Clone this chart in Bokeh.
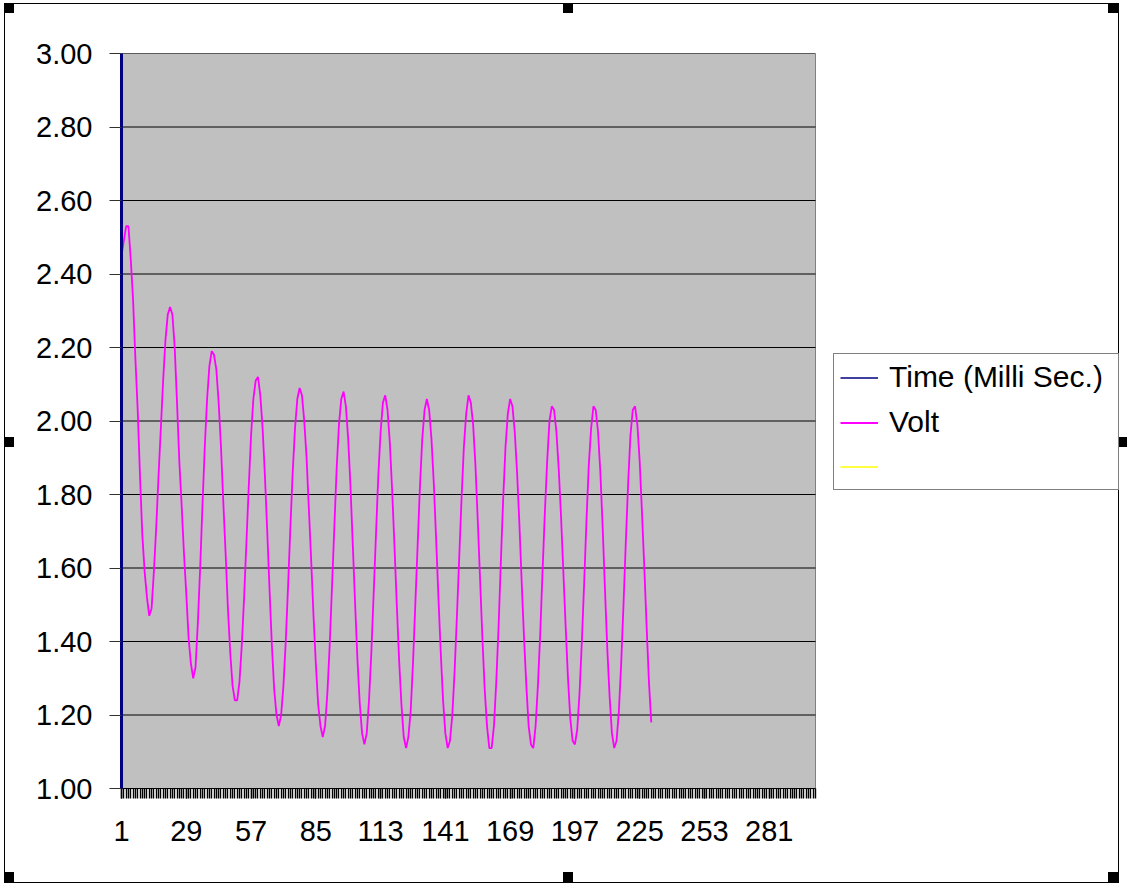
from bokeh.plotting import figure
from bokeh.models import (Range1d, FixedTicker, Legend, LegendItem,
                          PrintfTickFormatter)
from bokeh.embed import file_html
from bokeh.resources import INLINE

# ---------------- data ----------------
n_categories = 301
x_tick_labels = [1, 29, 57, 85, 113, 141, 169, 197, 225, 253, 281]
y_ticks = [1.00, 1.20, 1.40, 1.60, 1.80, 2.00, 2.20, 2.40, 2.60, 2.80, 3.00]

time_ms = [0, 100, 200, 300, 400]

volt = [
    2.45, 2.49, 2.53, 2.53, 2.44, 2.33, 2.17, 2.03, 1.85, 1.69,
    1.59, 1.52, 1.47, 1.49, 1.59, 1.71, 1.85, 1.98, 2.11, 2.22,
    2.29, 2.31, 2.29, 2.20, 2.05, 1.89, 1.77, 1.64, 1.53, 1.41,
    1.34, 1.30, 1.33, 1.45, 1.60, 1.77, 1.93, 2.06, 2.15, 2.19,
    2.18, 2.14, 2.05, 1.93, 1.78, 1.64, 1.49, 1.37, 1.28, 1.24,
    1.24, 1.29, 1.39, 1.52, 1.67, 1.82, 1.96, 2.06, 2.11, 2.12,
    2.07, 1.98, 1.85, 1.70, 1.54, 1.39, 1.27, 1.20, 1.17, 1.20,
    1.28, 1.40, 1.55, 1.71, 1.86, 1.98, 2.06, 2.09, 2.07, 2.00,
    1.90, 1.76, 1.62, 1.47, 1.34, 1.23, 1.17, 1.14, 1.17, 1.26,
    1.39, 1.55, 1.71, 1.87, 1.99, 2.06, 2.08, 2.04, 1.95, 1.82,
    1.66, 1.50, 1.35, 1.23, 1.15, 1.12, 1.15, 1.24, 1.37, 1.53,
    1.69, 1.85, 1.97, 2.05, 2.07, 2.03, 1.94, 1.81, 1.66, 1.50,
    1.35, 1.23, 1.14, 1.11, 1.14, 1.21, 1.34, 1.50, 1.66, 1.82,
    1.95, 2.03, 2.06, 2.03, 1.95, 1.83, 1.68, 1.52, 1.37, 1.24,
    1.15, 1.11, 1.13, 1.20, 1.32, 1.47, 1.63, 1.79, 1.93, 2.02,
    2.07, 2.05, 1.99, 1.88, 1.73, 1.57, 1.41, 1.27, 1.17, 1.11,
    1.11, 1.17, 1.29, 1.44, 1.62, 1.79, 1.93, 2.02, 2.06, 2.04,
    1.97, 1.86, 1.72, 1.56, 1.41, 1.28, 1.17, 1.12, 1.11, 1.17,
    1.28, 1.42, 1.59, 1.75, 1.89, 2.00, 2.04, 2.03, 1.97, 1.87,
    1.74, 1.59, 1.44, 1.30, 1.19, 1.13, 1.12, 1.16, 1.26, 1.40,
    1.56, 1.73, 1.88, 1.98, 2.04, 2.03, 1.97, 1.86, 1.71, 1.54,
    1.38, 1.25, 1.15, 1.11, 1.13, 1.21, 1.34, 1.50, 1.67, 1.83,
    1.96, 2.03, 2.04, 1.99, 1.89, 1.75, 1.60, 1.44, 1.29, 1.18,
]

# third (unnamed) series has no plotted values
blank_series = [float("nan")]

series_names = ["Time (Milli Sec.)", "Volt", " "]
series_colors = ["#000080", "#FF00FF", "#FFFF00"]

# ---------------- layout ----------------
FONT = "Liberation Sans"
W, H = 1127, 886
LEFT, TOP, BOTTOM = 121, 53, 98
AREA_W = 694                      # width of the grey plot area
FRAME_W = W - LEFT                # frame runs to the right edge (legend lives there)
x_end = 1 + (n_categories - 1) * FRAME_W / AREA_W

p = figure(width=W, height=H, output_backend="svg", toolbar_location=None,
           x_range=Range1d(1, x_end), y_range=Range1d(y_ticks[0], y_ticks[-1]),
           min_border_left=LEFT, min_border_right=0,
           min_border_top=TOP, min_border_bottom=BOTTOM)
p.title.visible = False
p.background_fill_color = None
p.border_fill_color = None
p.outline_line_color = None
p.xgrid.visible = False
p.ygrid.visible = False

# grey plot area and its horizontal gridlines
p.quad(left=1, right=n_categories, bottom=y_ticks[0], top=y_ticks[-1],
       fill_color="#C0C0C0", line_color="#808080", line_width=1)
p.segment(x0=[1] * len(y_ticks), x1=[n_categories] * len(y_ticks),
          y0=y_ticks, y1=y_ticks, line_color="black", line_width=1.2)

# x axis (category style)
xa = p.xaxis[0]
xa.bounds = (1, n_categories)
xa.ticker = FixedTicker(ticks=x_tick_labels, minor_ticks=list(range(1, n_categories + 1)))
xa.axis_line_color = "black"
xa.axis_line_width = 1.2
xa.major_tick_line_color = "black"
xa.minor_tick_line_color = "black"
xa.major_tick_line_width = 1.4
xa.minor_tick_line_width = 1.4
xa.major_tick_in = 0
xa.major_tick_out = 10
xa.minor_tick_in = 0
xa.minor_tick_out = 10
xa.major_label_text_font = FONT
xa.major_label_text_font_size = "29px"
xa.major_label_text_color = "black"
xa.major_label_standoff = 22

# y axis
ya = p.yaxis[0]
ya.ticker = FixedTicker(ticks=y_ticks, minor_ticks=[])
ya.formatter = PrintfTickFormatter(format="%.2f")
ya.axis_line_color = "#000080"
ya.axis_line_width = 3
ya.major_tick_line_color = "#303030"
ya.major_tick_line_width = 1.2
ya.major_tick_in = 0
ya.major_tick_out = 12
ya.minor_tick_line_color = None
ya.major_label_text_font = FONT
ya.major_label_text_font_size = "29px"
ya.major_label_text_color = "black"
ya.major_label_standoff = 17

# series
cats_time = list(range(1, len(time_ms) + 1))
cats_volt = list(range(1, len(volt) + 1))
cats_blank = list(range(1, len(blank_series) + 1))
r_time = p.line(cats_time, time_ms, line_color=series_colors[0], line_width=1.5)
r_volt = p.line(cats_volt, volt, line_color=series_colors[1], line_width=1.8)
r_blank = p.line(cats_blank, blank_series, line_color=series_colors[2], line_width=1.5)

legend = Legend(items=[
    LegendItem(label=series_names[0], renderers=[r_time]),
    LegendItem(label=series_names[1], renderers=[r_volt]),
    LegendItem(label=series_names[2], renderers=[r_blank]),
], location=(833 - LEFT, 298))
legend.border_line_color = "black"
legend.border_line_width = 1.2
legend.background_fill_color = "white"
legend.background_fill_alpha = 1
legend.label_text_font = FONT
legend.label_text_font_size = "30px"
legend.label_text_color = "black"
legend.glyph_width = 38
legend.glyph_height = 33
legend.label_height = 33
legend.label_width = 223
legend.label_standoff = 11
legend.spacing = 11
legend.padding = 6
legend.margin = 0
p.add_layout(legend, "center")

# outer chart-area frame with its selection handles (page decoration, CSS)
handle_pos = ["4px 3px", "563px 3px", "1108px 3px", "4px 437px", "1117px 437px",
              "4px 872px", "563px 872px", "1108px 872px"]
line_pos = ["4px 3px", "4px 882px", "4px 3px", "1118px 3px"]
line_size = ["1115px 1px", "1115px 1px", "1px 880px", "1px 880px"]
imgs = ["linear-gradient(#000,#000)"] * (len(handle_pos) + len(line_pos))
p.styles = {
    "background-color": "white",
    "background-image": ", ".join(imgs),
    "background-position": ", ".join(handle_pos + line_pos),
    "background-size": ", ".join(["10px 10px"] * len(handle_pos) + line_size),
    "background-repeat": "no-repeat",
}

open("out.html", "w").write(file_html(p, INLINE))
